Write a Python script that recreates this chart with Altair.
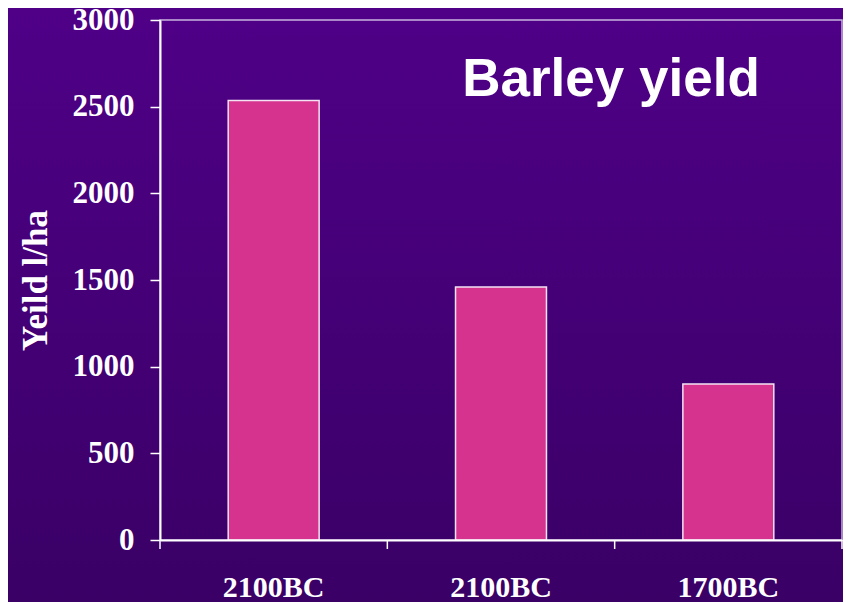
import altair as alt
import pandas as pd

# ---- data ----
periods = ["2100BC", "2100BC", "1700BC"]
keys = ["p1", "p2", "p3"]
yields = [2535, 1460, 900]
y_ticks = [0, 500, 1000, 1500, 2000, 2500, 3000]
chart_title = "Barley yield"
y_title = "Yeild l/ha"

W, H = 682, 520
PAD = {"left": 152, "top": 12, "right": 1, "bottom": 62}

df = pd.DataFrame({"key": keys, "period": periods, "yield": yields})
one = pd.DataFrame({"d": [0]})

keys_js = "[" + ",".join(f"'{k}'" for k in keys) + "]"
periods_js = "[" + ",".join(f"'{p}'" for p in periods) + "]"
label_expr = f"{periods_js}[indexof({keys_js}, datum.value)]"

grad = alt.LinearGradient(
    gradient="linear",
    stops=[alt.GradientStop(color="#4F0087", offset=0),
           alt.GradientStop(color="#3A0066", offset=1)],
    x1=0, x2=0, y1=0, y2=1,
)

bg = alt.Chart(one).mark_rect(fill=grad).encode(
    x=alt.value(-PAD["left"]), x2=alt.value(W + PAD["right"]),
    y=alt.value(-PAD["top"]), y2=alt.value(H + PAD["bottom"]),
)

frame = alt.Chart(one).mark_rect(fillOpacity=0, stroke="#C8B4E0", strokeWidth=1.5).encode(
    x=alt.value(0), x2=alt.value(W), y=alt.value(0), y2=alt.value(H),
)

bars = alt.Chart(df).mark_bar(color="#D6338E", stroke="#F3E3F3", strokeWidth=1.5).encode(
    x=alt.X("key:N", sort=keys,
            scale=alt.Scale(paddingInner=0.6, paddingOuter=0.3),
            axis=alt.Axis(title=None, labelExpr=label_expr, ticks=False,
                          domainColor="white", domainWidth=2,
                          labelFont="Liberation Serif", labelFontWeight="bold",
                          labelFontSize=30, labelColor="white", labelPadding=32,
                          labelAngle=0, zindex=1)),
    y=alt.Y("yield:Q", scale=alt.Scale(domain=[0, 3000], nice=False),
            axis=alt.Axis(values=y_ticks, format="d", title=y_title, grid=False,
                          titleFont="Liberation Serif", titleFontWeight="bold",
                          titleFontSize=35, titleColor="white", titlePadding=19,
                          labelFont="Liberation Serif", labelFontWeight="bold",
                          labelFontSize=31, labelColor="white", labelPadding=16,
                          tickSize=10, tickColor="white", tickWidth=1.5,
                          domainColor="white", domainWidth=2, zindex=1)),
)

# category-boundary tick marks below the x axis
tick_layers = [
    alt.Chart(one).mark_rule(color="white", strokeWidth=1.5).encode(
        x=alt.value(W * i / len(keys)), y=alt.value(H), y2=alt.value(H + 9))
    for i in range(len(keys) + 1)
]

title_txt = alt.Chart(one).mark_text(
    text=chart_title, font="Liberation Sans", fontWeight="bold", fontSize=53,
    color="white", align="center", baseline="alphabetic",
).encode(x=alt.value(451), y=alt.value(76))

edge_e = alt.Chart(one).mark_text(
    text="e", font="Liberation Sans", fontWeight="bold", fontSize=60,
    color="white", align="right", baseline="alphabetic",
).encode(x=alt.value(-150), y=alt.value(431))

chart = alt.layer(bg, frame, bars, *tick_layers, title_txt, edge_e).properties(
    width=W, height=H,
    autosize=alt.AutoSizeParams(type="none"),
    padding=PAD,
    background="#3A0066",
).configure_view(strokeWidth=0)

chart.save("out.html", embed_options={"renderer": "svg", "actions": False})
